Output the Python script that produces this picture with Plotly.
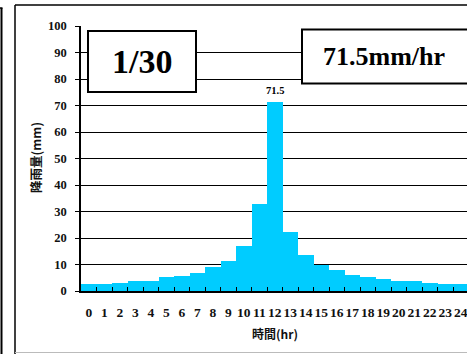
import plotly.graph_objects as go

hours = [str(h) for h in range(25)]
rain_mm = [2.7, 2.7, 3.1, 3.9, 3.9, 5.1, 5.8, 6.9, 8.9, 11.5, 17.1, 32.9, 71.5,
           22.4, 13.7, 9.9, 7.8, 6.1, 5.4, 4.6, 3.9, 3.9, 3.1, 2.8, 2.8]
y_ticks = list(range(0, 101, 10))
return_period = "1/30"
peak_label = "71.5mm/hr"

W, H = 467, 354
L, R, T, B = 81, 0, 26, 63
pw, ph = W - L - R, H - T - B

def px(x):
    return (x - L) / pw

def py(y):
    return (H - B - y) / ph

SERIF = "Liberation Serif, Times New Roman, serif"
CJK = "Noto Sans CJK JP, Noto Sans CJK SC, sans-serif"

fig = go.Figure(go.Bar(
    x=hours, y=rain_mm,
    marker=dict(color="#00CCFF", line=dict(width=0)),
    width=1.0,
))

peak_i = max(range(len(rain_mm)), key=lambda i: rain_mm[i])

shapes = [
    dict(type="line", xref="paper", yref="paper", x0=px(1.5), x1=px(1.5), y0=py(8), y1=py(356),
         line=dict(color="black", width=2)),
    dict(type="line", xref="paper", yref="paper", x0=px(-2), x1=px(2.5), y0=py(8), y1=py(8),
         line=dict(color="black", width=1.5)),
    dict(type="line", xref="paper", yref="paper", x0=px(15), x1=px(15), y0=py(5), y1=py(356),
         line=dict(color="black", width=1.5), layer="below"),
    dict(type="line", xref="paper", yref="paper", x0=px(15), x1=px(490), y0=py(5), y1=py(5),
         line=dict(color="black", width=1.5), layer="below"),
    dict(type="line", xref="paper", yref="paper", x0=px(15), x1=px(490), y0=py(352.5), y1=py(352.5),
         line=dict(color="#bbbbbb", width=1), layer="below"),
    dict(type="rect", xref="paper", yref="paper", x0=px(88), x1=px(196), y0=py(31), y1=py(92),
         line=dict(color="black", width=2), fillcolor="white"),
    dict(type="rect", xref="paper", yref="paper", x0=px(302), x1=px(490), y0=py(29.5), y1=py(83.5),
         line=dict(color="black", width=2), fillcolor="white"),
]

annotations = [
    dict(xref="paper", yref="paper", x=px(142), y=py(62), text=f"<b>{return_period}</b>",
         xanchor="center", yanchor="middle",
         showarrow=False, font=dict(family=SERIF, size=34, color="black")),
    dict(xref="paper", yref="paper", x=px(384), y=py(57), text=f"<b>{peak_label}</b>",
         xanchor="center", yanchor="middle",
         showarrow=False, font=dict(family=SERIF, size=26, color="black")),
    dict(x=hours[peak_i], y=rain_mm[peak_i], yshift=11, text=f"<b>{rain_mm[peak_i]}</b>",
         xanchor="center", yanchor="middle",
         showarrow=False, font=dict(family=SERIF, size=10.5, color="black")),
    dict(xref="paper", yref="paper", x=px(35), y=py(158), text="<b>降雨量(mm)</b>", textangle=-90,
         xanchor="center", yanchor="middle",
         showarrow=False, font=dict(family=CJK, size=12.5, color="#111")),
    dict(xref="paper", yref="paper", x=px(275), y=py(333), text="<b>時間(hr)</b>",
         xanchor="center", yanchor="middle",
         showarrow=False, font=dict(family=CJK, size=12, color="#111")),
]

fig.update_layout(
    width=W, height=H,
    margin=dict(l=L, r=R, t=T, b=B, pad=0),
    paper_bgcolor="white", plot_bgcolor="white",
    showlegend=False,
    bargap=0,
    shapes=shapes,
    annotations=annotations,
    xaxis=dict(
        type="category", range=[-0.5, 24.4],
        tickmode="array", tickvals=hours, ticktext=hours, tickangle=0,
        showgrid=False, showline=True, linecolor="black", linewidth=1.5,
        ticks="inside", ticklen=4, tickcolor="black", tickwidth=1, tickson="boundaries",
        tickfont=dict(family=SERIF, size=13.5, color="#111", weight="bold"),
        ticklabelstandoff=8,
    ),
    yaxis=dict(
        range=[0, 100], tickvals=y_ticks,
        showgrid=True, gridcolor="black", gridwidth=1,
        showline=True, linecolor="black", linewidth=1.5,
        ticks="outside", ticklen=4, tickcolor="black",
        tickfont=dict(family=SERIF, size=12.5, color="#111", weight="bold"),
        ticklabelstandoff=6,
        zeroline=False,
    ),
)

fig.write_html("out.html", config={"displayModeBar": False},
               post_script="document.body.style.margin='0';document.body.style.overflow='hidden';")
